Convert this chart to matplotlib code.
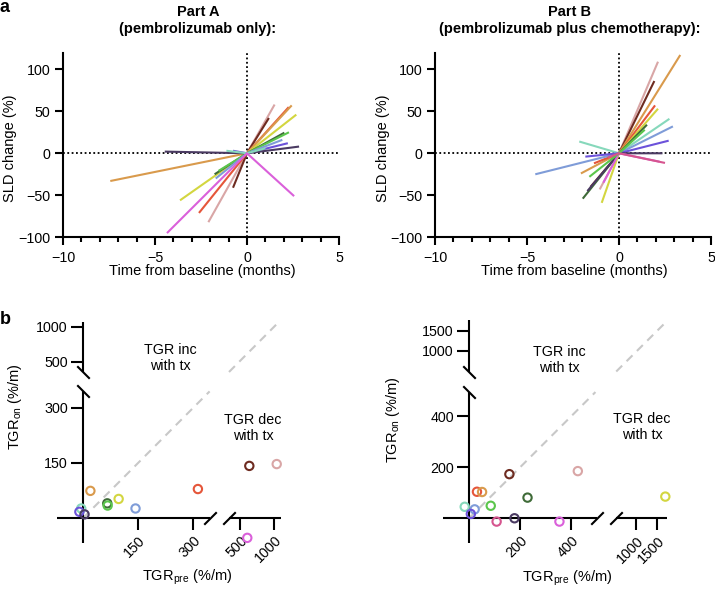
import numpy as np
import matplotlib
matplotlib.use('Agg')
import matplotlib.pyplot as plt
from matplotlib.ticker import MultipleLocator, NullLocator, FixedLocator

plt.rcParams['font.family'] = ['Liberation Sans', 'DejaVu Sans']
plt.rcParams['mathtext.default'] = 'regular'

# ---------------- data ----------------
# Part A (pembrolizumab only): pre-baseline and on-treatment SLD points
a_colors = ['#d9a6a6', '#6e2b20', '#e5563a', '#d99a4c', '#d3d640', '#3f6b38',
            '#5bc64c', '#7f9cd8', '#6c52da', '#4a3a62', '#86d8bb', '#da60da']
a_pre_t = [-2.10, -0.76, -2.61, -7.43, -3.64, -1.76, -1.55, -1.70, -0.76, -4.47, -1.12, -4.35]
a_pre_sld = [-82, -41, -71, -33, -56, -25, -21, -30, 3, 2, 3, -95]
a_post_t = [1.50, 1.19, 2.27, 2.43, 2.68, 2.03, 2.28, 1.92, 2.22, 2.83, 1.00, 2.56]
a_post_sld = [58, 42, 55, 57, 46, 24.5, 25, 16, 12, 8, 6, -51]

# Part B (pembrolizumab plus chemotherapy)
b_colors = ['#d9a6a6', '#6e2b20', '#d99a4c', '#e5563a', '#d3d640', '#3f6b38',
            '#86d8bb', '#7f9cd8', '#6c52da', '#4a3a62', '#da60da', '#5bc64c', '#d6558f']
b_pre_t = [-1.05, -1.55, -2.07, -1.36, -0.94, -1.97, -2.16, -4.55, -1.83, -1.72, -0.85, -1.61, -0.60]
b_pre_sld = [-43, -40, -24, -12, -59, -54, 14, -25, -4, -45, -35, -28, -5]
b_post_t = [2.12, 1.92, 3.33, 1.96, 2.12, 1.52, 2.74, 2.93, 2.70, 2.36, 2.20, 1.40, 2.50]
b_post_sld = [109, 86, 117, 57, 53, 34, 41, 32, 15, 0, -10, 28, -11.5]

# TGR scatter, Part A
sa_colors = ['#d99a4c', '#86d8bb', '#6c52da', '#4a3a62', '#3f6b38', '#5bc64c',
             '#d3d640', '#7f9cd8', '#e5563a', '#6e2b20', '#d9a6a6', '#da60da']
tgr_pre_a = [20, -5, -10, 4, 66, 67, 97, 143, 313, 637, 1040, 607]
tgr_on_a = [74, 26, 17, 10, 40, 34, 52, 26, 79, 142, 147, -54]

# TGR scatter, Part B
sb_colors = ['#86d8bb', '#7f9cd8', '#6c52da', '#e5563a', '#d99a4c', '#5bc64c', '#d6558f',
             '#6e2b20', '#4a3a62', '#3f6b38', '#da60da', '#d9a6a6', '#d3d640']
tgr_pre_b = [-17, 22, 7, 31, 51, 85, 108, 158, 178, 229, 354, 426, 1698]
tgr_on_b = [45, 35, 17, 104, 103, 49, -13, 173, 0, 81, -13, 185, 85]

top_yticks = [-100, -50, 0, 50, 100]
top_xticks = [-10, -5, 0, 5]
ba_xticks = [150, 300, 500, 1000]
ba_yticks = [150, 300, 500, 1000]
bb_xticks = [200, 400, 1000, 1500]
bb_yticks = [200, 400, 1000, 1500]

# ---------------- layout helpers ----------------
W, H = 715, 592
fig = plt.figure(figsize=(W / 100, H / 100), dpi=100)


def rect(l, t, r, b):
    return [l / W, 1 - b / H, (r - l) / W, (b - t) / H]


def P(x, y):
    return x / W, 1 - y / H


TICK_FS = 10.3
LAB_FS = 10.5

# ---------------- top panels ----------------
def top_panel(r, pre_t, pre_s, post_t, post_s, colors):
    ax = fig.add_axes(r)
    ax.set_xlim(-10, 5)
    ax.set_ylim(-100, 119)
    ax.axhline(0, color='k', lw=1.3, ls=(0, (1, 1.4)), zorder=1)
    ax.axvline(0, color='k', lw=1.3, ls=(0, (1, 1.4)), zorder=1)
    for i in range(len(colors)):
        ax.plot([pre_t[i], 0, post_t[i]], [pre_s[i], 0, post_s[i]],
                color=colors[i], lw=1.5, solid_capstyle='butt', zorder=2)
    for s in ['top', 'right']:
        ax.spines[s].set_visible(False)
    for s in ['left', 'bottom']:
        ax.spines[s].set_linewidth(1.5)
    ax.set_xticks(top_xticks)
    ax.set_yticks(top_yticks)
    ax.xaxis.set_minor_locator(MultipleLocator(1))
    ax.tick_params(which='major', length=6, width=1.5, labelsize=TICK_FS, pad=3)
    ax.tick_params(which='major', axis='x', pad=4)
    ax.tick_params(which='minor', axis='x', length=3.5, width=1.5)
    return ax


axA = top_panel(rect(63, 53.3, 339, 237.3), a_pre_t, a_pre_sld, a_post_t, a_post_sld, a_colors)
axB = top_panel(rect(435, 53.3, 711, 237.3), b_pre_t, b_pre_sld, b_post_t, b_post_sld, b_colors)

fig.text(*P(198, 12), 'Part A', ha='center', va='center', fontsize=10.5, fontweight='bold')
fig.text(*P(198, 29), '(pembrolizumab only):', ha='center', va='center', fontsize=10.5, fontweight='bold')
fig.text(*P(570, 12), 'Part B', ha='center', va='center', fontsize=10.5, fontweight='bold')
fig.text(*P(570, 29), '(pembrolizumab plus chemotherapy):', ha='center', va='center', fontsize=10.5, fontweight='bold')

for x in (10, 383):
    fig.text(*P(x, 148), 'SLD change (%)', rotation=90, ha='center', va='center', fontsize=LAB_FS)
for x in (202, 574):
    fig.text(*P(x, 271), 'Time from baseline (months)', ha='center', va='center', fontsize=LAB_FS)

fig.text(*P(5, 7), 'a', ha='center', va='center', fontsize=13, fontweight='bold')
fig.text(*P(5, 319), 'b', ha='center', va='center', fontsize=13, fontweight='bold')


# ---------------- bottom panels (broken axes via piecewise scale) ----------------
def piecewise(knots_d, knots_p):
    kd = np.asarray(knots_d, float)
    kp = np.asarray(knots_p, float)

    def fwd(v):
        return np.interp(v, kd, kp)

    def inv(v):
        return np.interp(v, kp, kd)
    return fwd, inv


def bottom_panel(r, xknots, yknots, xlim, ylim, xbrk, ybrk, xt, yt,
                 xs, ys, cols):
    ax = fig.add_axes(r)
    ax.set_xscale('function', functions=piecewise(*xknots))
    ax.set_yscale('function', functions=piecewise(*yknots))
    ax.set_xlim(*xlim)
    ax.set_ylim(*ylim)
    for s in ['top', 'right']:
        ax.spines[s].set_visible(False)
    for s in ['left', 'bottom']:
        ax.spines[s].set_position(('data', 0))
        ax.spines[s].set_color('none')
    kw = dict(color='k', lw=1.5, clip_on=False, solid_capstyle='butt', zorder=3)
    ax.plot([xlim[0], xbrk[0]], [0, 0], **kw)
    ax.plot([xbrk[1], xlim[1]], [0, 0], **kw)
    ax.plot([0, 0], [ylim[0], ybrk[0]], **kw)
    ax.plot([0, 0], [ybrk[1], ylim[1]], **kw)
    mk = dict(ls='none', ms=9, mew=1.5, mec='k', mfc='none', clip_on=False, zorder=3)
    ax.plot(xbrk, [0, 0], marker=[(-1, -1), (1, 1)], **mk)
    ax.plot([0, 0], ybrk, marker=[(-1, 1), (1, -1)], **mk)
    # identity line
    dkw = dict(color='#c8c8c8', lw=1.5, ls=(0, (4, 3)), zorder=1)
    lo = min(xbrk[0], ybrk[0])
    hi0 = max(xbrk[1], ybrk[1])
    hi1 = min(xlim[1], ylim[1])
    ax.plot([0, lo], [0, lo], **dkw)
    ax.plot([hi0, hi1], [hi0, hi1], **dkw)
    ax.scatter(xs, ys, s=36, facecolors='none', edgecolors=cols, linewidths=1.5,
               clip_on=False, zorder=4)
    ax.xaxis.set_major_locator(FixedLocator(xt))
    ax.yaxis.set_major_locator(FixedLocator(yt))
    ax.xaxis.set_minor_locator(NullLocator())
    ax.yaxis.set_minor_locator(NullLocator())
    ax.set_xticklabels([str(v) for v in xt], rotation=45, ha='right', va='top',
                       rotation_mode='anchor')
    ax.tick_params(length=8.5, width=1.5, labelsize=TICK_FS, pad=2.5)
    return ax


# left bottom: pixel-space knots (data -> pixels from origin)
s_lo = 0.367
xk_a = ([-1000, 346, 360, 500, 1000, 5000],
        [-1000 * s_lo, 346 * s_lo, 146, 157, 191, 191 + 4000 * 0.068])
yk_a = ([-1000, 345, 360, 500, 1000, 5000],
        [-1000 * s_lo, 345 * s_lo, 146, 156, 191, 191 + 4000 * 0.07])
bottom_panel(rect(57, 322, 281, 543), xk_a, yk_a, (-71, 1103), (-68, 1071),
             [346, 360], [345, 360], ba_xticks, ba_yticks,
             tgr_pre_a, tgr_on_a, sa_colors)

s_lo2 = 0.255
xk_b = ([-1000, 502, 531, 1000, 1500, 5000],
        [-1000 * s_lo2, 502 * s_lo2, 147, 166.7, 187.7, 187.7 + 3500 * 0.042])
yk_b = ([-1000, 495, 520, 1000, 1500, 5000],
        [-1000 * s_lo2, 495 * s_lo2, 146.3, 167.3, 187.6, 187.6 + 3500 * 0.0407])
bottom_panel(rect(443, 320, 667, 543), xk_b, yk_b, (-102, 1738), (-97, 1763),
             [502, 531], [495, 520], bb_xticks, bb_yticks,
             tgr_pre_b, tgr_on_b, sb_colors)

for (x, y) in [(170, 358), (559, 360)]:
    fig.text(*P(x, y), 'TGR inc\nwith tx', ha='center', va='center', fontsize=TICK_FS, linespacing=1.1)
for (x, y) in [(253, 428), (642, 427)]:
    fig.text(*P(x, y), 'TGR dec\nwith tx', ha='center', va='center', fontsize=TICK_FS, linespacing=1.1)
for (x, y) in [(15, 407), (393, 420)]:
    fig.text(*P(x, y), 'TGR$_{on}$ (%/m)', rotation=90, ha='center', va='center', fontsize=LAB_FS)
for (x, y) in [(187, 577), (567, 578)]:
    fig.text(*P(x, y), 'TGR$_{pre}$ (%/m)', ha='center', va='center', fontsize=LAB_FS)

fig.savefig('out.png', dpi=100)
